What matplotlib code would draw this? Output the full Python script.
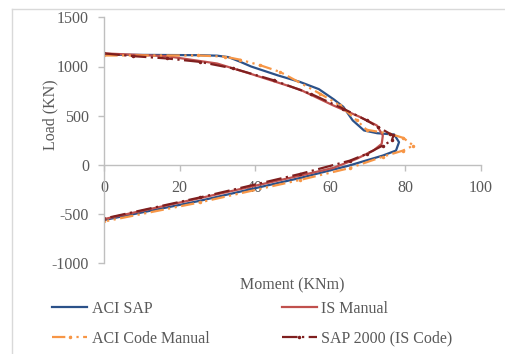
import matplotlib
matplotlib.use("Agg")
import matplotlib.pyplot as plt
from matplotlib.lines import Line2D

# interaction curves (moment KNm, load KN)
aci_sap_m = [0, 25, 30, 33, 36, 39, 46, 52, 57, 61, 63.5, 66, 69, 72.5, 77, 78.3, 77.5, 74, 69.5, 65, 52, 25.5, 0]
aci_sap_p = [1120, 1115, 1110, 1095, 1050, 1000, 911, 843, 770, 665, 590, 452, 350, 322, 309, 231, 146, 95, 44, -7, -133, -364, -560]

is_manual_m = [0, 16.6, 30, 38.7, 52, 60.8, 68, 72.4, 74, 73.7, 71.5, 67, 60.8, 52, 25.5, 0]
is_manual_p = [1133, 1105, 1030, 928, 765, 605, 486, 401, 299, 214, 146, 61, -31, -109, -337, -550]

aci_manual_m = [0, 25, 32, 36, 41.4, 46.7, 57.3, 62.6, 67.1, 69.7, 75.9, 79.4, 82.1, 79.4, 74.1, 65.3, 52, 25.5, 0]
aci_manual_p = [1112, 1112, 1100, 1070, 1013, 945, 724, 605, 452, 357, 316, 275, 197, 146, 85, -31, -153, -380, -575]

sap_is_m = [0, 7.7, 16.6, 25.4, 34.3, 45, 55, 63.5, 69.7, 72.8, 75.9, 76.8, 76.4, 74, 69.7, 65.3, 52, 25.5, 0]
sap_is_p = [1133, 1105, 1082, 1047, 980, 860, 720, 571, 452, 384, 316, 299, 248, 197, 112, 44, -92, -330, -545]

x_ticks = [0, 20, 40, 60, 80, 100]
y_ticks = [-1000, -500, 0, 500, 1000, 1500]

plt.rcParams['font.family'] = ['Liberation Serif', 'DejaVu Serif']
plt.rcParams['axes.unicode_minus'] = False
txt = '#595959'
grid_c = '#BFBFBF'

fig = plt.figure(figsize=(5.05, 3.54), dpi=100)
ax = fig.add_axes([104.3 / 505, 1 - 263.3 / 354, (480.7 - 104.3) / 505, (263.3 - 17.3) / 354])

h1, = ax.plot(aci_sap_m, aci_sap_p, color='#2B5189', lw=1.6, label='ACI SAP')
h2, = ax.plot(is_manual_m, is_manual_p, color='#C0504D', lw=1.6, label='IS Manual')
h3, = ax.plot(aci_manual_m, aci_manual_p, color='#F79646', lw=1.6, ls=(0, (6, 2, 1, 2, 1, 2)),
              marker='.', ms=3, label='ACI Code Manual')
h4, = ax.plot(sap_is_m, sap_is_p, color='#7F1F1F', lw=1.6, ls=(0, (7, 2, 1, 2)),
              marker='.', ms=3, label='SAP 2000 (IS Code)')

ax.set_xlim(0, 100)
ax.set_ylim(-1000, 1500)
ax.set_xticks(x_ticks)
ax.set_yticks(y_ticks)

ax.spines['top'].set_visible(False)
ax.spines['right'].set_visible(False)
ax.spines['bottom'].set_position(('data', 0))
ax.spines['left'].set_position(('data', 0))
for s in ('bottom', 'left'):
    ax.spines[s].set_color(grid_c)
    ax.spines[s].set_linewidth(1.0)
ax.spines['bottom'].set_zorder(0.5)
ax.tick_params(axis='both', colors=grid_c, labelcolor=txt, labelsize=11.5,
               length=4, width=1.0, direction='out', pad=7)

fig.text(50 / 505, 1 - 115 / 354, 'Load (KN)', rotation=90, ha='center', va='center',
         fontsize=11.5, color=txt)
fig.text(292.5 / 505, 1 - 285 / 354, 'Moment (KNm)', ha='center', va='center',
         fontsize=11.5, color=txt)

# legend is filled column-wise, so order gives rows: ACI SAP | IS Manual, ACI Code | SAP 2000
leg = fig.legend([h1, h3, h2, h4], [h.get_label() for h in (h1, h3, h2, h4)],
                 loc='upper left', bbox_to_anchor=(52 / 505, 1 - 301 / 354), ncol=2,
                 frameon=False, fontsize=11.5, handlelength=2.2, handletextpad=0.3,
                 columnspacing=4.5, labelspacing=0.85, borderpad=0, borderaxespad=0)
for t in leg.get_texts():
    t.set_color(txt)

# chart area border (only left/top edges fall inside the image)
fig.add_artist(Line2D([11.5 / 505, 11.5 / 505], [0, 1 - 8.5 / 354], transform=fig.transFigure,
                      color='#D9D9D9', lw=1.0))
fig.add_artist(Line2D([11.5 / 505, 1], [1 - 8.5 / 354, 1 - 8.5 / 354], transform=fig.transFigure,
                      color='#D9D9D9', lw=1.0))

fig.savefig('out.png', dpi=100)
